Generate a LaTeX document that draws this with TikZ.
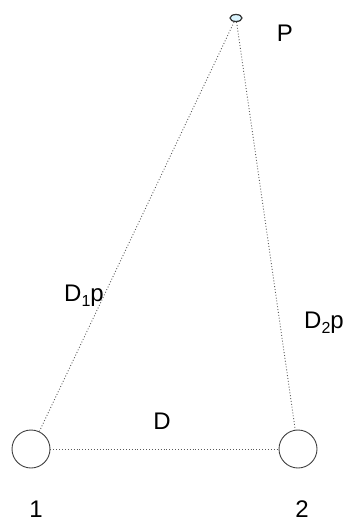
\documentclass[tikz,border=0pt]{standalone}
\usepackage{fontspec}
\setmainfont{Liberation Sans}
\usetikzlibrary{positioning,shapes.geometric}

\newcommand{\sublow}[1]{\raisebox{-5pt}{\fontsize{16}{18}\selectfont #1}}

\begin{document}
\begin{tikzpicture}[x=1pt,y=-1pt,
    site/.style={draw=black!75, circle, minimum size=38pt, inner sep=0pt, line width=0.9pt},
    pnt/.style={draw=black!80, ellipse, fill=cyan!15, minimum width=12pt, minimum height=7pt, inner sep=0pt, line width=1.2pt},
    lbl/.style={font=\fontsize{24}{28}\selectfont, inner sep=0pt},
    link/.style={dotted, draw=black!65, line width=0.9pt}]
	\useasboundingbox (0,0) rectangle (346,522);
	% stations and point
	\node[site] (S1) at (31,449) {};
	\node[site] (S2) at (298,449) {};
	\node[pnt] (P) at (236,18) {};
	% labels
	\node[lbl] (lp) at (285,33) {P};
	\node[lbl] (ld) at (162,421) {D};
	\node[lbl] (ld1) at (84,296) {D\sublow{1}p};
	\node[lbl] (ld2) at (324,323) {D\sublow{2}p};
	\node[lbl] (l1) at (36,509) {1};
	\node[lbl] (l2) at (302,509) {2};
	% distances
	\draw[link] (S1) -- (S2);
	\draw[link] (S1) -- (P);
	\draw[link] (P) -- (S2);
\end{tikzpicture}
\end{document}
